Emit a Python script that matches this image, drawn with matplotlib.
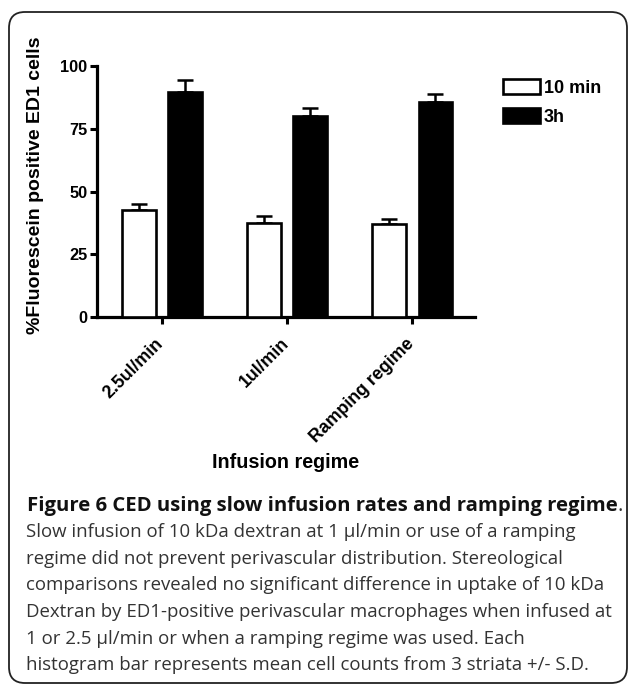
import matplotlib
matplotlib.use("Agg")
import matplotlib.pyplot as plt
import matplotlib.transforms as mtransforms
from matplotlib.patches import FancyBboxPatch, Patch
import numpy as np

# ---- data ----
categories = ["2.5ul/min", "1ul/min", "Ramping regime"]
series_names = ["10 min", "3h"]
vals_10min = [42.5, 37.5, 37.0]
err_10min = [2.7, 2.6, 2.0]
vals_3h = [89.5, 80.0, 85.8]
err_3h = [5.0, 3.3, 3.0]
yticks = [0, 25, 50, 75, 100]
ylabel = "%Fluorescein positive ED1 cells"
xlabel = "Infusion regime"
caption_bold = "Figure 6 CED using slow infusion rates and ramping regime"
caption_lines = [
    "Slow infusion of 10 kDa dextran at 1 \u00b5l/min or use of a ramping",
    "regime did not prevent perivascular distribution. Stereological",
    "comparisons revealed no significant difference in uptake of 10 kDa",
    "Dextran by ED1-positive perivascular macrophages when infused at",
    "1 or 2.5 \u00b5l/min or when a ramping regime was used. Each",
    "histogram bar represents mean cell counts from 3 striata +/- S.D.",
]

W, H = 629, 684
fig = plt.figure(figsize=(W / 100, H / 100), dpi=100)

# background frame
bg = fig.add_axes([0, 0, 1, 1], zorder=-1)
bg.set_xlim(0, W)
bg.set_ylim(H, 0)
bg.axis("off")
bg.add_patch(FancyBboxPatch((9, 12), 618, 671, boxstyle="round,pad=0,rounding_size=16",
                            fc="white", ec="#222222", lw=1.3))

def fx(px):
    return px / W

def fy(py):
    return 1 - py / H

ax = fig.add_axes([fx(97), fy(317), fx(475) - fx(97), fy(66) - fy(317)])
ax.patch.set_alpha(0)
x = np.arange(len(categories))
bw = 0.27
off = 0.184
ax.bar(x - off, vals_10min, bw, color="white", edgecolor="black", linewidth=1.9, zorder=3,
       label=series_names[0])
ax.bar(x + off, vals_3h, bw, color="black", edgecolor="black", linewidth=1.9, zorder=3,
       label=series_names[1])
ax.errorbar(x - off, vals_10min, yerr=[np.zeros(3), err_10min], fmt="none", ecolor="black",
            elinewidth=1.8, capsize=6, capthick=1.8, zorder=2)
ax.errorbar(x + off, vals_3h, yerr=[np.zeros(3), err_3h], fmt="none", ecolor="black",
            elinewidth=1.8, capsize=6, capthick=1.8, zorder=2)

ax.set_xlim(-0.52, 2.5)
ax.set_ylim(0, 100)
for s in ["top", "right"]:
    ax.spines[s].set_visible(False)
for s in ["left", "bottom"]:
    ax.spines[s].set_linewidth(2.3)
ax.set_yticks(yticks)
ax.set_yticklabels([str(t) for t in yticks], fontfamily="Liberation Sans", fontweight="bold",
                   fontsize=11.8)
ax.set_xticks(x)
ax.set_xticklabels(categories, rotation=45, ha="right", rotation_mode="anchor",
                   fontfamily="Liberation Sans", fontweight="bold", fontsize=12.8)
ax.tick_params(axis="both", direction="out", length=5, width=2.2, pad=2)
ax.tick_params(axis="x", pad=5)
shift = mtransforms.ScaledTranslation(-7 / 100, -4 / 100, fig.dpi_scale_trans)
for lab in ax.get_xticklabels():
    lab.set_transform(lab.get_transform() + shift)

fig.text(fx(36), fy(185), ylabel, rotation=90, ha="center", va="center",
         fontfamily="Liberation Sans", fontweight="bold", fontsize=14)
fig.text(fx(286), fy(463), xlabel, ha="center", va="center",
         fontfamily="Liberation Sans", fontweight="bold", fontsize=14.2)

handles = [Patch(facecolor="white", edgecolor="black", linewidth=1.9),
           Patch(facecolor="black", edgecolor="black", linewidth=1.9)]
fig.legend(handles, series_names, loc="upper left", bbox_to_anchor=(fx(496), fy(72)),
           frameon=False, handlelength=2.05, handleheight=0.85, handletextpad=0.2,
           labelspacing=0.65, borderaxespad=0,
           prop={"family": "Liberation Sans", "weight": "bold", "size": 13})

# caption
t = fig.text(fx(27), fy(506), caption_bold, ha="left", va="center",
             fontfamily="Open Sans", fontweight="bold", fontsize=14.6, color="#111111")
fig.canvas.draw()
bb = t.get_window_extent()
fig.text(bb.x1 / W, fy(506), ".", ha="left", va="center",
         fontfamily="Open Sans", fontsize=14.6, color="#333333")
for i, line in enumerate(caption_lines):
    fig.text(fx(26), fy(532 + i * 26.7), line, ha="left", va="center",
             fontfamily="Open Sans", fontsize=13.4, color="#333333")

fig.savefig("out.png", dpi=100)
